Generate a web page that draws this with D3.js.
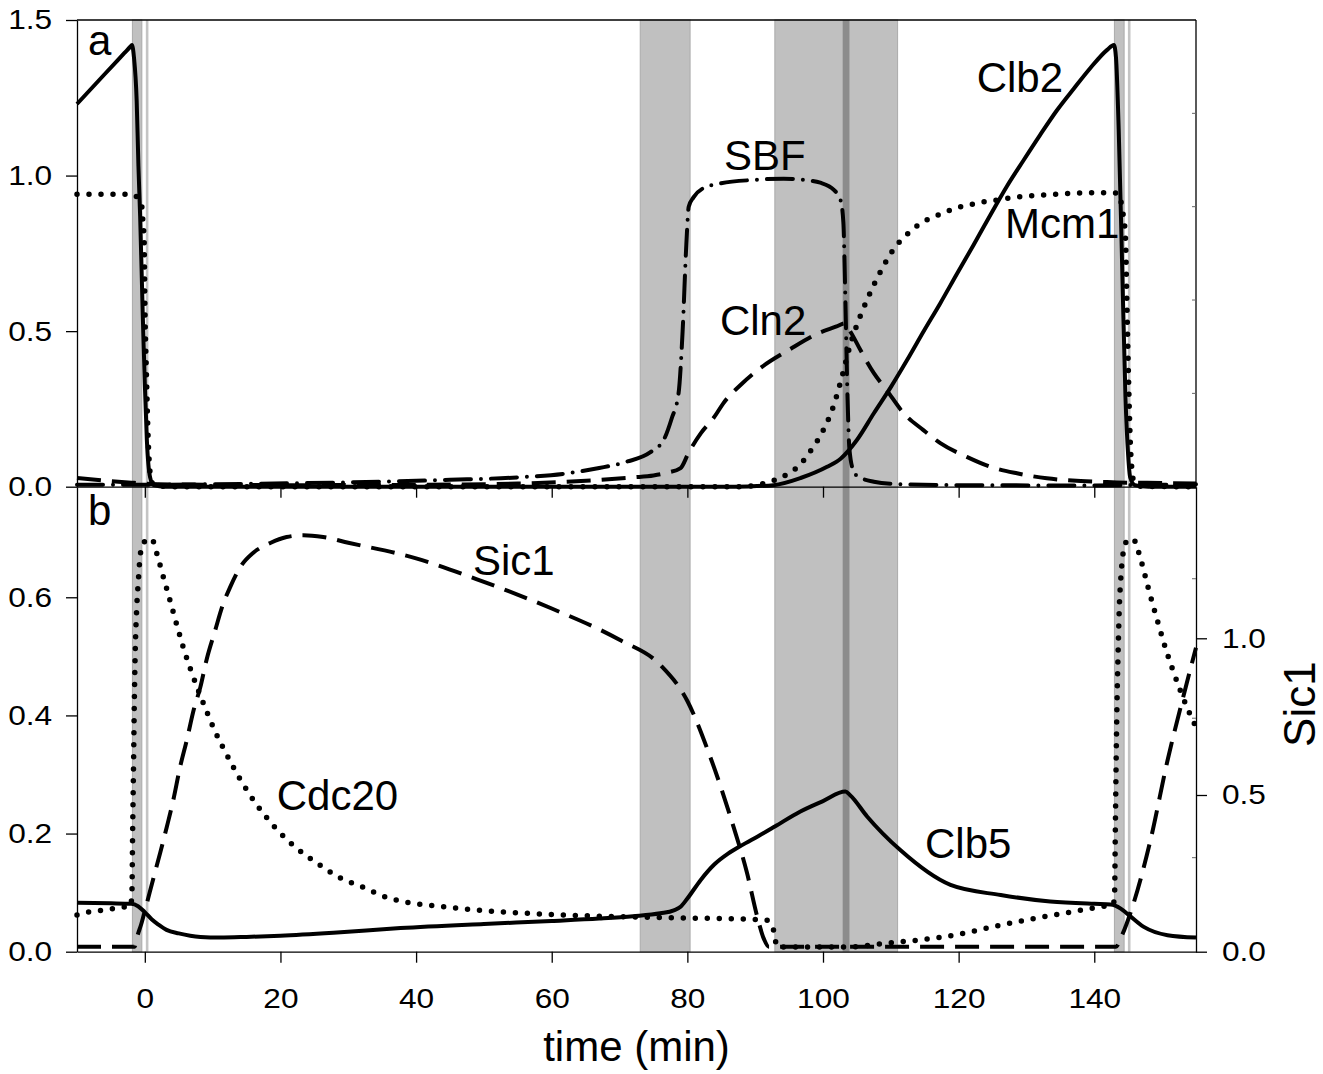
<!DOCTYPE html>
<html><head><meta charset="utf-8">
<script src="https://cdn.jsdelivr.net/npm/d3@7"></script>
<style>body{margin:0;background:#fff} svg{display:block}</style>
</head><body>
<svg id="chart" width="1323" height="1074"></svg>
<script>
// ---------- data ----------
const xTicks = [0, 20, 40, 60, 80, 100, 120, 140];
const topTicks = [0, 0.5, 1.0, 1.5];
const botTicks = [0, 0.2, 0.4, 0.6];
const sicTicks = [0, 0.5, 1.0];
const topMinor = [0.3, 0.6, 0.9, 1.2];
const sicMinor = [0.3, 0.745, 1.19];

const bands = [[-1.83, -0.44], [73.05, 80.4], [92.9, 111.0], [142.97, 144.4]];
const thinLines = [0.34, 145.15];
const darkLine = [102.9, 103.9];

// panel a
const clb2 = [[-10,1.23],[-6,1.324],[-3,1.394],[-2.1,1.415],[-1.9,1.42],[-1.6,1.38],[-1.2,1.24],[-0.94,1.03],[-0.69,0.87],[-0.3,0.55],[0.0,0.33],[0.3,0.15],[0.78,0.03],[1.3,0.005],[3,0],[85,0],[89,0.001],[92.7,0.005],[96.7,0.028],[100.6,0.064],[102.6,0.09],[105,0.15],[107.5,0.236],[110,0.32],[112.4,0.407],[114.8,0.498],[117.3,0.59],[119.8,0.686],[122.2,0.777],[124.7,0.874],[127.1,0.965],[129.6,1.05],[132,1.13],[134.5,1.21],[137,1.28],[139.4,1.345],[141.9,1.404],[142.9,1.42],[143.2,1.38],[143.6,1.15],[144.1,0.72],[144.6,0.29],[145.0,0.1],[145.3,0.03],[146,0.005],[148,0],[155,0]];
const mcm1 = [[-10,0.94],[-2,0.94],[-1.4,0.935],[-0.8,0.92],[-0.44,0.9],[-0.3,0.857],[-0.1,0.79],[0.0,0.6],[0.25,0.35],[0.5,0.15],[0.78,0.044],[1.1,0.012],[2,0.002],[5,0],[88,0],[91.2,0.01],[94.7,0.04],[96.4,0.066],[98,0.11],[100,0.18],[101.5,0.256],[103,0.37],[104,0.455],[105,0.52],[106,0.575],[107.2,0.635],[108.7,0.7],[110,0.75],[111.2,0.785],[112.6,0.815],[114.3,0.845],[116.1,0.865],[117.8,0.88],[119.5,0.895],[121.5,0.905],[123.2,0.914],[125.2,0.92],[128.1,0.93],[132,0.937],[137,0.943],[141.9,0.945],[143.4,0.943],[144.3,0.868],[144.6,0.8],[144.8,0.6],[145.05,0.35],[145.3,0.15],[145.6,0.044],[145.9,0.012],[147,0.001],[155,0]];
const sbf = [[-10,0.006],[0,0.006],[10,0.008],[30,0.014],[45,0.022],[55,0.03],[62,0.042],[67,0.06],[71,0.08],[74.5,0.11],[76.5,0.15],[77.7,0.22],[78.7,0.3],[79.3,0.5],[79.85,0.78],[80.2,0.9],[80.9,0.93],[82.4,0.96],[84.9,0.975],[89.8,0.986],[94.2,0.99],[97.1,0.986],[99.6,0.977],[101.6,0.954],[102.6,0.92],[103.0,0.85],[103.3,0.6],[103.6,0.3],[103.9,0.12],[104.5,0.05],[105,0.035],[107.5,0.016],[110.4,0.009],[120,0.005],[140,0.004],[145,0.005],[155,0.008]];
const cln2 = [[-10,0.028],[-6,0.02],[-2,0.013],[0,0.01],[5,0.007],[20,0.005],[40,0.006],[55,0.01],[62,0.016],[67,0.022],[72,0.03],[75,0.036],[77,0.045],[79,0.06],[80.2,0.11],[82,0.172],[84,0.225],[85.3,0.268],[88,0.33],[91,0.385],[95,0.44],[99,0.49],[102,0.515],[103.2,0.525],[104,0.5],[105.5,0.44],[107.5,0.365],[109.4,0.31],[111.9,0.236],[114.8,0.182],[117.3,0.14],[121.2,0.096],[124.7,0.064],[128.6,0.043],[133,0.027],[138,0.018],[141.9,0.015],[145,0.013],[150,0.012],[155,0.01]];

// panel b
const cdc20 = [[-10,0.062],[-8,0.068],[-6.3,0.07],[-4.6,0.073],[-2.9,0.076],[-2.1,0.077],[-1.9,0.1],[-1.8,0.2],[-1.68,0.3],[-1.55,0.42],[-1.43,0.5],[-1.18,0.585],[-0.94,0.63],[-0.69,0.67],[-0.3,0.69],[0.04,0.695],[0.6,0.7],[1.22,0.695],[1.77,0.674],[2.26,0.654],[2.74,0.634],[3.24,0.614],[3.73,0.594],[4.72,0.553],[5.7,0.514],[6.9,0.473],[8.9,0.413],[10.4,0.372],[12.1,0.333],[14.0,0.293],[16.3,0.252],[19.0,0.213],[22.0,0.179],[25.4,0.15],[28.8,0.125],[32.4,0.108],[35.9,0.091],[45,0.075],[60,0.063],[75,0.058],[91.5,0.054],[92.5,0.045],[92.9,0.025],[93.2,0.008],[104,0.008],[108.9,0.014],[114.3,0.02],[117.8,0.025],[126.2,0.045],[131,0.056],[135.5,0.065],[138.9,0.072],[140.9,0.076],[142.8,0.08],[143.0,0.1],[143.1,0.2],[143.2,0.3],[143.35,0.42],[143.5,0.5],[143.7,0.585],[143.9,0.63],[144.2,0.67],[144.5,0.69],[144.9,0.695],[145.4,0.7],[146.0,0.695],[146.6,0.674],[147.1,0.654],[148.0,0.614],[149.5,0.553],[150.5,0.514],[151.7,0.473],[153.7,0.413],[155,0.38]];
const sic1 = [[-10,0.016],[-1.5,0.016],[-1.18,0.044],[-0.5,0.09],[0.04,0.133],[1.2,0.229],[2.26,0.315],[3.24,0.398],[4.2,0.484],[5.2,0.589],[6.2,0.676],[7.2,0.771],[8.2,0.845],[9.1,0.931],[10.4,1.027],[11.4,1.1],[12.6,1.164],[14.1,1.228],[16.0,1.273],[18.5,1.304],[20.9,1.323],[23.4,1.329],[26.3,1.323],[30,1.305],[40,1.255],[50,1.18],[60,1.095],[70,0.995],[76,0.915],[80,0.8],[83.4,0.62],[86.8,0.399],[88.8,0.251],[90.3,0.112],[91.3,0.04],[92,0.016],[143.2,0.016],[144.1,0.053],[145.8,0.155],[148.3,0.357],[150.8,0.61],[153.2,0.82],[155,0.97]];
const clb5 = [[-10,0.083],[-5,0.082],[-2,0.081],[-1,0.077],[0,0.067],[1,0.055],[2,0.046],[3.2,0.037],[5,0.031],[8.2,0.025],[11.1,0.024],[15,0.025],[20,0.027],[27.8,0.032],[37.7,0.04],[50,0.047],[60,0.052],[67,0.056],[72,0.06],[76,0.065],[78,0.07],[79,0.076],[80,0.09],[82,0.122],[84,0.148],[86,0.166],[88,0.18],[90.5,0.196],[92.9,0.212],[96.6,0.237],[100,0.255],[103.3,0.271],[104,0.265],[106.5,0.229],[111.4,0.172],[118.8,0.113],[126.2,0.096],[133.5,0.085],[140,0.081],[142.4,0.08],[143.9,0.073],[144.8,0.065],[147.3,0.042],[150.8,0.028],[155,0.024]];

const labels = [
  {text: "a",     panel: "top", t: -8.38, v: 1.388},
  {text: "Clb2",  panel: "top", t: 122.66, v: 1.27},
  {text: "SBF",   panel: "top", t: 85.4,  v: 1.018},
  {text: "Mcm1",  panel: "top", t: 126.84, v: 0.798},
  {text: "Cln2",  panel: "top", t: 84.8,  v: 0.4876},
  {text: "b",     panel: "bot", t: -8.38, v: 0.7224},
  {text: "Sic1",  panel: "bot", t: 48.39, v: 0.6377},
  {text: "Cdc20", panel: "bot", t: 19.45, v: 0.2399},
  {text: "Clb5",  panel: "bot", t: 115.04, v: 0.1586}
];

// ---------- layout ----------
const L = 77, R = 1196, T = 20, MID = 486.7, B = 951.7;
const FONT = "'Liberation Sans', Arial, Helvetica, sans-serif";
const svg = d3.select("#chart");

const x = d3.scaleLinear([-10, 155], [L, R]);
const yTop = d3.scaleLinear([0, 1.5], [MID, T]);
const yBot = d3.scaleLinear([0, 0.7872], [B, MID]);
const ySic = d3.scaleLinear([0, 1.4837], [B, MID]);

// bands
const g0 = svg.append("g");
g0.selectAll("rect.band").data(bands).join("rect").attr("class", "band")
  .attr("x", d => x(d[0])).attr("width", d => x(d[1]) - x(d[0]))
  .attr("y", T).attr("height", B - T)
  .attr("fill", "#c0c0c0").attr("stroke", "#aaaaaa").attr("stroke-width", 1);
g0.selectAll("rect.thin").data(thinLines).join("rect").attr("class", "thin")
  .attr("x", d => x(d) - 1.3).attr("width", 2.6)
  .attr("y", T).attr("height", B - T).attr("fill", "#c4c4c4");
g0.append("rect").attr("x", x(darkLine[0])).attr("width", x(darkLine[1]) - x(darkLine[0]))
  .attr("y", T).attr("height", B - T).attr("fill", "#8c8c8c");

// axes
function styleAxis(g, scaleX) {
  g.selectAll("path.domain").attr("stroke", "#000").attr("stroke-width", 1.3);
  g.selectAll(".tick line").attr("stroke", "#000").attr("stroke-width", 1.3);
  g.selectAll(".tick text").attr("font-family", FONT).attr("font-size", 28).attr("fill", "#000");
  if (scaleX) g.selectAll(".tick text").attr("transform", "scale(1.13,1)");
}
const fmt = d3.format(".1f");

svg.append("g").attr("transform", `translate(${L},0)`)
  .call(d3.axisLeft(yTop).tickValues(topTicks).tickFormat(fmt).tickSize(11).tickSizeOuter(0).tickPadding(11))
  .call(g => styleAxis(g, true));
svg.append("g").attr("transform", `translate(${L},0)`)
  .call(d3.axisLeft(yBot).tickValues(botTicks).tickFormat(fmt).tickSize(11).tickSizeOuter(0).tickPadding(11))
  .call(g => styleAxis(g, true));
svg.append("g").attr("transform", `translate(${R},0)`)
  .call(d3.axisRight(ySic).tickValues(sicTicks).tickFormat(fmt).tickSize(11).tickSizeOuter(0).tickPadding(12))
  .call(g => styleAxis(g, true));
svg.append("g").attr("transform", `translate(0,${MID})`)
  .call(d3.axisBottom(x).tickValues(xTicks).tickFormat("").tickSize(11).tickSizeOuter(0))
  .call(g => styleAxis(g, false));
svg.append("g").attr("transform", `translate(0,${B})`)
  .call(d3.axisBottom(x).tickValues(xTicks).tickFormat(d3.format("d")).tickSize(11).tickSizeOuter(0).tickPadding(25))
  .call(g => styleAxis(g, true));

// frame
svg.append("line").attr("x1", L).attr("x2", R).attr("y1", T).attr("y2", T).attr("stroke", "#000").attr("stroke-width", 1.3);
svg.append("line").attr("x1", R).attr("x2", R).attr("y1", T).attr("y2", MID).attr("stroke", "#000").attr("stroke-width", 1.3);

// minor inward ticks on right side
svg.append("g").selectAll("line").data(topMinor).join("line")
  .attr("x1", R - 4).attr("x2", R).attr("y1", d => yTop(d)).attr("y2", d => yTop(d))
  .attr("stroke", "#666").attr("stroke-width", 1);
svg.append("g").selectAll("line").data(sicMinor).join("line")
  .attr("x1", R - 4).attr("x2", R).attr("y1", d => ySic(d)).attr("y2", d => ySic(d))
  .attr("stroke", "#666").attr("stroke-width", 1);

// curves
const styles = {
  solid:   {w: 4,   dash: null,            cap: "butt"},
  dashed:  {w: 4,   dash: "24,11",         cap: "butt"},
  dotted:  {w: 5.5, dash: "0,12",          cap: "round"},
  dashdot: {w: 4,   dash: "26,10,0,10",    cap: "round"}
};
function drawCurve(data, yScale, style) {
  const s = styles[style];
  const gen = d3.line().x(d => x(d[0])).y(d => yScale(d[1])).curve(d3.curveMonotoneX);
  const p = svg.append("path").datum(data).attr("d", gen)
    .attr("fill", "none").attr("stroke", "#000").attr("stroke-width", s.w)
    .attr("stroke-linecap", s.cap).attr("stroke-linejoin", "round");
  if (s.dash) p.attr("stroke-dasharray", s.dash);
}
drawCurve(cln2, yTop, "dashed");
drawCurve(sbf, yTop, "dashdot");
drawCurve(mcm1, yTop, "dotted");
drawCurve(clb2, yTop, "solid");
drawCurve(cdc20, yBot, "dotted");
drawCurve(sic1, ySic, "dashed");
drawCurve(clb5, yBot, "solid");

// labels
svg.append("g").selectAll("text").data(labels).join("text")
  .attr("x", d => x(d.t))
  .attr("y", d => d.panel === "top" ? yTop(d.v) : yBot(d.v))
  .attr("font-family", FONT).attr("font-size", 42).attr("fill", "#000")
  .text(d => d.text);

// axis titles
svg.append("text").attr("x", (L + R) / 2).attr("y", 1061).attr("text-anchor", "middle")
  .attr("font-family", FONT).attr("font-size", 42).text("time (min)");
svg.append("text").attr("transform", `translate(1315,${ySic(0.79)}) rotate(-90)`)
  .attr("text-anchor", "middle").attr("font-family", FONT).attr("font-size", 44).text("Sic1");
</script>
</body></html>
